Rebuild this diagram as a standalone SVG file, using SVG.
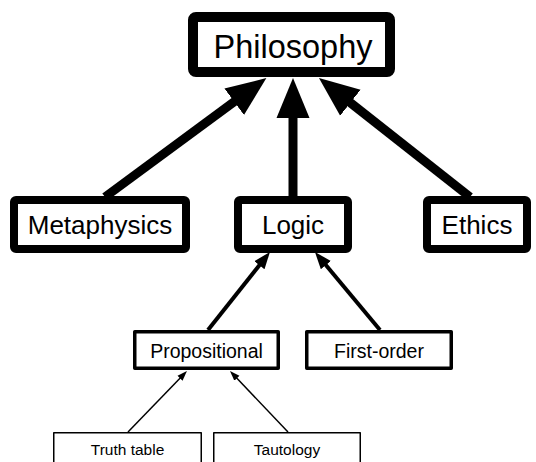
<svg xmlns="http://www.w3.org/2000/svg" width="536" height="462" viewBox="0 0 536 462">
<defs>
<style>
text{font-family:"Liberation Sans",Arial,sans-serif;fill:#000;text-anchor:middle}
rect{fill:#fff;stroke:#000;stroke-linejoin:round}
.t1 rect{stroke-width:10}
.t2 rect{stroke-width:8}
.t3 rect{stroke-width:3.5}
.t4 rect{stroke-width:1.5}
.t1 text{font-size:32.5px}
.t2 text{font-size:26px}
.t3 text{font-size:19.5px}
.t4 text{font-size:15.5px}
.c line{stroke:#000;fill:none}
.big{stroke-width:9;marker-end:url(#hb)}
.med{stroke-width:4;marker-end:url(#hm)}
.sml{stroke-width:1.5;marker-end:url(#hs)}
</style>
<marker id="hb" markerUnits="userSpaceOnUse" markerWidth="42" markerHeight="36" viewBox="0 -18 42 36" refX="1" refY="0" orient="auto"><path d="M0,-16.5 L40,0 L0,16.5 z" fill="#000"/></marker>
<marker id="hm" markerUnits="userSpaceOnUse" markerWidth="18" markerHeight="16" viewBox="0 -8 18 16" refX="1" refY="0" orient="auto"><path d="M0,-6.5 L17,0 L0,6.5 z" fill="#000"/></marker>
<marker id="hs" markerUnits="userSpaceOnUse" markerWidth="11" markerHeight="9" viewBox="0 -4.5 11 9" refX="1" refY="0" orient="auto"><path d="M0,-3.5 L10,0 L0,3.5 z" fill="#000"/></marker>
</defs>
<rect width="536" height="462" style="fill:#fff;stroke:none"/>
<g id="connectors" class="c">
<line class="big" x1="105" y1="197" x2="235" y2="101.2"/>
<line class="big" x1="293" y1="196" x2="293" y2="117"/>
<line class="big" x1="470" y1="197" x2="349.6" y2="102.1"/>
<line class="med" x1="208" y1="330" x2="260" y2="264.5"/>
<line class="med" x1="380" y1="330" x2="325.2" y2="264.3"/>
<line class="sml" x1="128" y1="432" x2="180.7" y2="377.5"/>
<line class="sml" x1="288" y1="432" x2="236.2" y2="377.5"/>
</g>
<g id="philosophy" class="t1"><rect x="193" y="17" width="197" height="55" rx="3"/><text x="293" y="58">Philosophy</text></g>
<g id="metaphysics" class="t2"><rect x="14" y="200" width="172" height="49" rx="2"/><text x="100" y="234">Metaphysics</text></g>
<g id="logic" class="t2"><rect x="238" y="200" width="110" height="49" rx="2"/><text x="293" y="234">Logic</text></g>
<g id="ethics" class="t2"><rect x="427" y="200" width="100" height="49" rx="2"/><text x="477" y="234">Ethics</text></g>
<g id="propositional" class="t3"><rect x="134.75" y="331.75" width="143.5" height="36.5"/><text x="206.5" y="358">Propositional</text></g>
<g id="first-order" class="t3"><rect x="306.75" y="331.75" width="144.5" height="36.5"/><text x="379" y="358">First-order</text></g>
<g id="truth-table" class="t4"><rect x="53.75" y="432.75" width="147.5" height="40"/><text x="127.5" y="455">Truth table</text></g>
<g id="tautology" class="t4"><rect x="213.75" y="432.75" width="146.5" height="40"/><text x="287" y="455">Tautology</text></g>
</svg>
